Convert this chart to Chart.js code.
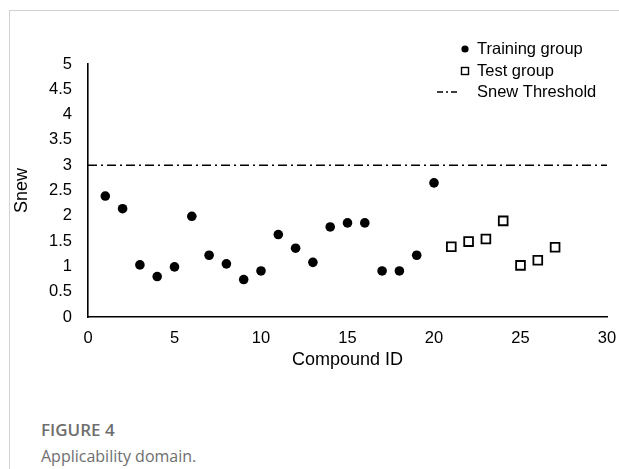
<!DOCTYPE html>
<html>
<head>
<meta charset="utf-8">
<script src="https://cdn.jsdelivr.net/npm/chart.js@4.4.0/dist/chart.umd.min.js"></script>
<style>
  html, body { margin: 0; padding: 0; background: #fff; }
  body { width: 619px; height: 469px; position: relative; overflow: hidden; }
  .frame { position: absolute; left: 9px; top: 10px; right: -4px; bottom: -4px;
           border-left: 1px solid #d2d2d2; border-top: 1px solid #d2d2d2; }
  #wrap { position: absolute; left: 0; top: 0; width: 619px; height: 380px; }
  .cap { position: absolute; left: 41px; font-family: "Open Sans", sans-serif;
         color: #6e6e6e; line-height: 22px; white-space: nowrap; }
</style>
</head>
<body>
<div class="frame"></div>
<div id="wrap"><canvas id="c"></canvas></div>
<div class="cap" style="top:419px;font-weight:600;font-size:17px;">FIGURE 4</div>
<div class="cap" style="top:445px;font-size:16px;">Applicability domain.</div>
<script>
// Compound IDs and Snew values
const trainingIds  = [1, 2, 3, 4, 5, 6, 7, 8, 9, 10, 11, 12, 13, 14, 15, 16, 17, 18, 19, 20];
const trainingSnew = [2.39, 2.14, 1.03, 0.80, 0.99, 1.99, 1.22, 1.05, 0.74, 0.91,
                      1.63, 1.36, 1.08, 1.78, 1.86, 1.86, 0.91, 0.91, 1.22, 2.65];
const testIds  = [21, 22, 23, 24, 25, 26, 27];
const testSnew = [1.39, 1.49, 1.54, 1.90, 1.02, 1.12, 1.38];
const thresholdIds = [0, 30];
const thresholdSnew = [3, 3];

const seriesNames = ['Training group', 'Test group', 'Snew Threshold'];
const xTitle = 'Compound ID';
const yTitle = 'Snew';

const toPoints = (xs, ys) => xs.map((x, i) => ({ x: x, y: ys[i] }));

const FONT = '"Liberation Sans", Arial, sans-serif';

// Legend drawn in the upper-right corner of the plot
const cornerLegend = {
  id: 'cornerLegend',
  afterDraw(chart) {
    const ctx = chart.ctx;
    const area = chart.chartArea;
    const x0 = area.right - 142;       // marker column
    const tx = area.right - 130;       // text column
    const rows = [area.top - 15, area.top + 7, area.top + 28];
    ctx.save();
    ctx.fillStyle = '#000';
    ctx.strokeStyle = '#000';
    // training marker
    ctx.beginPath();
    ctx.arc(x0, rows[0], 3.6, 0, Math.PI * 2);
    ctx.fill();
    // test marker
    ctx.lineWidth = 1.4;
    ctx.strokeRect(x0 - 3.5, rows[1] - 3.5, 7, 7);
    // threshold marker
    ctx.lineWidth = 1.4;
    ctx.setLineDash([6, 3, 2, 3]);
    ctx.beginPath();
    ctx.moveTo(x0 - 28, rows[2]);
    ctx.lineTo(x0 - 5, rows[2]);
    ctx.stroke();
    ctx.setLineDash([]);
    ctx.font = '16.5px ' + FONT;
    ctx.textBaseline = 'middle';
    ctx.textAlign = 'left';
    seriesNames.forEach((name, i) => ctx.fillText(name, tx, rows[i]));
    ctx.restore();
  }
};

new Chart(document.getElementById('c'), {
  type: 'scatter',
  data: {
    datasets: [
      {
        label: seriesNames[0],
        data: toPoints(trainingIds, trainingSnew),
        pointStyle: 'circle',
        pointRadius: 4.8,
        pointHoverRadius: 4.8,
        backgroundColor: '#000',
        borderColor: '#000',
        borderWidth: 0
      },
      {
        label: seriesNames[1],
        data: toPoints(testIds, testSnew),
        pointStyle: 'rect',
        pointRadius: 6.2,
        pointHoverRadius: 6.2,
        backgroundColor: '#fff',
        borderColor: '#000',
        borderWidth: 1.8
      },
      {
        label: seriesNames[2],
        type: 'line',
        data: toPoints(thresholdIds, thresholdSnew),
        borderColor: '#000',
        borderWidth: 1.6,
        borderDash: [9, 4, 2, 4],
        pointRadius: 0,
        fill: false
      }
    ]
  },
  options: {
    responsive: true,
    maintainAspectRatio: false,
    animation: false,
    layout: { padding: { left: 0, right: 12, top: 64, bottom: 0 } },
    plugins: { legend: { display: false }, tooltip: { enabled: false } },
    scales: {
      x: {
        type: 'linear',
        min: 0, max: 30,
        grid: { display: false, drawTicks: false },
        border: { display: true, color: '#000', width: 1.6 },
        ticks: { stepSize: 5, padding: 12, color: '#000', font: { family: FONT, size: 16.5 } },
        title: { display: true, text: xTitle, color: '#000',
                 font: { family: FONT, size: 18 }, padding: { top: 0, bottom: 9 } },
        afterFit(scale) {
          scale.height = 63;
          scale.paddingLeft = 0;
          scale.paddingRight = 0;
        }
      },
      y: {
        type: 'linear',
        min: 0, max: 5,
        grid: { display: false, drawTicks: false },
        border: { display: true, color: '#000', width: 1.6 },
        ticks: {
          stepSize: 0.5, padding: 16, color: '#000', font: { family: FONT, size: 16.5 },
          callback: (v) => String(Math.round(v * 10) / 10)
        },
        title: { display: true, text: yTitle, color: '#000',
                 font: { family: FONT, size: 18 }, padding: { top: 11, bottom: 0 } },
        afterFit(scale) { scale.width = 88; }
      }
    }
  },
  plugins: [cornerLegend]
});
</script>
</body>
</html>
